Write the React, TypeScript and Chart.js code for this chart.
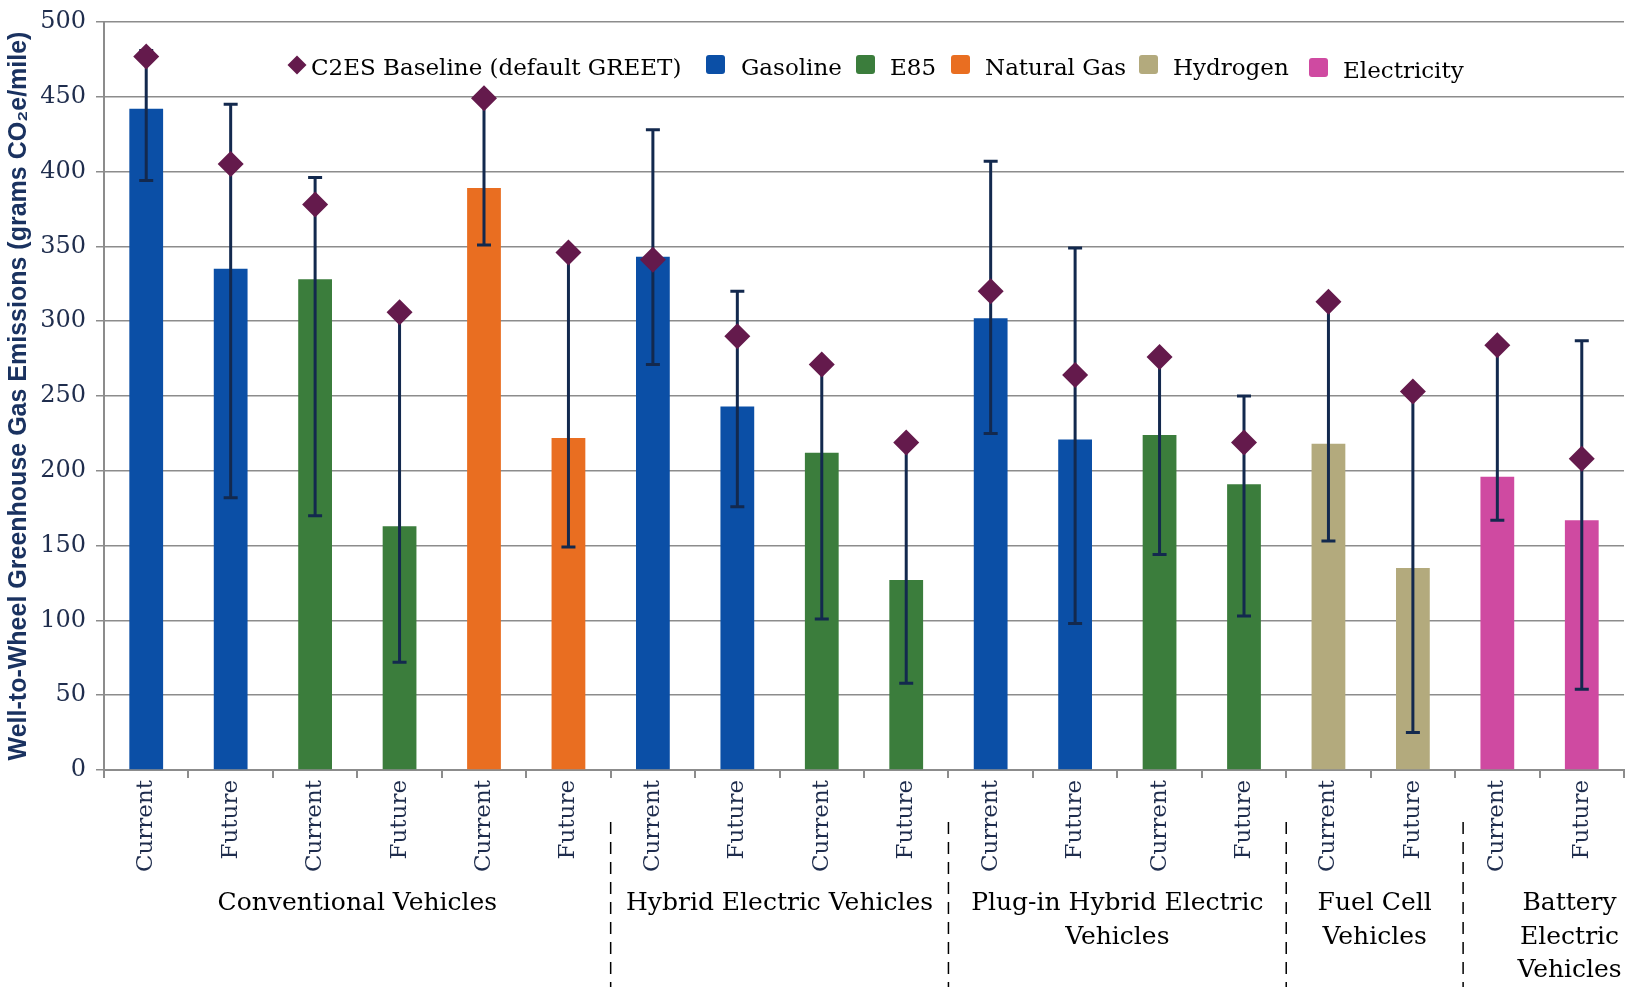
import React, { useEffect, useRef } from 'react';
import { Chart, registerables } from 'chart.js';

Chart.register(...registerables);

// ---------- data ----------
const categories = [
  'Current', 'Future', 'Current', 'Future', 'Current', 'Future',
  'Current', 'Future', 'Current', 'Future',
  'Current', 'Future', 'Current', 'Future',
  'Current', 'Future',
  'Current', 'Future',
];
const fuels = [
  'Gasoline', 'Gasoline', 'E85', 'E85', 'Natural Gas', 'Natural Gas',
  'Gasoline', 'Gasoline', 'E85', 'E85',
  'Gasoline', 'Gasoline', 'E85', 'E85',
  'Hydrogen', 'Hydrogen',
  'Electricity', 'Electricity',
];
const values = [442, 335, 328, 163, 389, 222, 343, 243, 212, 127, 302, 221, 224, 191, 218, 135, 196, 167];
const errLow = [394, 182, 170, 72, 351, 149, 271, 176, 101, 58, 225, 98, 144, 103, 153, 25, 167, 54];
const errHigh = [481, 445, 396, 306, 449, 346, 428, 320, 271, 219, 407, 349, 276, 250, 313, 253, 284, 287];
const baseline = [477, 405, 378, 306, 449, 346, 341, 290, 271, 219, 320, 264, 276, 219, 313, 253, 284, 208];

const baselineLabel = 'C2ES Baseline (default GREET)';
const fuelNames = ['Gasoline', 'E85', 'Natural Gas', 'Hydrogen', 'Electricity'];
const fuelColors = ['#0B4FA6', '#3B7D3C', '#E96E21', '#B3AA7D', '#CF4AA1'];

const groupLabels = [
  ['Conventional Vehicles'],
  ['Hybrid Electric Vehicles'],
  ['Plug-in Hybrid Electric', 'Vehicles'],
  ['Fuel Cell', 'Vehicles'],
  ['Battery', 'Electric', 'Vehicles'],
];
const groupStart = [0, 6, 10, 14, 16];
const groupEnd = [5, 9, 13, 15, 17];

const yMin = 0;
const yMax = 500;
const yStep = 50;
const yTitle = 'Well-to-Wheel Greenhouse Gas Emissions (grams CO\u2082e/mile)';

// ---------- styles ----------
const SERIF = '"DejaVu Serif", "Liberation Serif", serif';
const NAVY = '#1F2D4D';
const GRID = '#8C8C8C';
const ERR = '#13294E';
const DIAMOND = '#641A4C';
const legendTextX = [311, 741, 890, 985, 1173, 1343];
const legendBoxX = [706, 856, 951, 1139, 1309];
const groupShift = [0, 0, 0, 4, 30];
const dashShift = [0, 0, 0, 8];

const overlayPlugin = {
  id: 'overlay',
  beforeDatasetDraw(chart: any, args: any) {
    if (args.meta.type !== 'line') return;
    const xs = chart.scales.x;
    const ys = chart.scales.y;
    const ctx = chart.ctx;
    ctx.save();
    ctx.strokeStyle = ERR;
    ctx.lineWidth = 3;
    for (let i = 0; i < values.length; i++) {
      const px = xs.getPixelForValue(i);
      const yl = ys.getPixelForValue(errLow[i]);
      const yh = ys.getPixelForValue(errHigh[i]);
      ctx.beginPath();
      ctx.moveTo(px, yl);
      ctx.lineTo(px, yh);
      ctx.moveTo(px - 7, yl);
      ctx.lineTo(px + 7, yl);
      ctx.moveTo(px - 7, yh);
      ctx.lineTo(px + 7, yh);
      ctx.stroke();
    }
    ctx.restore();
  },
  afterDraw(chart: any) {
    const ctx = chart.ctx;
    const xs = chart.scales.x;
    ctx.save();
    // legend
    ctx.font = `23px ${SERIF}`;
    ctx.textBaseline = 'alphabetic';
    ctx.textAlign = 'left';
    ctx.fillStyle = DIAMOND;
    const dcx = 297, dcy = 65, dr = 9.5;
    ctx.beginPath();
    ctx.moveTo(dcx, dcy - dr);
    ctx.lineTo(dcx + dr, dcy);
    ctx.lineTo(dcx, dcy + dr);
    ctx.lineTo(dcx - dr, dcy);
    ctx.closePath();
    ctx.fill();
    ctx.fillStyle = '#000';
    ctx.fillText(baselineLabel, legendTextX[0], 75);
    fuelNames.forEach((name, i) => {
      const dy = i === fuelNames.length - 1 ? 3 : 0;
      ctx.fillStyle = fuelColors[i];
      ctx.beginPath();
      (ctx as any).roundRect(legendBoxX[i], 55 + dy, 19, 19, 3);
      ctx.fill();
      ctx.fillStyle = '#000';
      ctx.fillText(name, legendTextX[i + 1], 75 + dy);
    });

    // group labels
    ctx.font = `25px ${SERIF}`;
    ctx.textAlign = 'center';
    ctx.fillStyle = '#000';
    groupLabels.forEach((lines, g) => {
      const cx = (xs.getPixelForValue(groupStart[g]) + xs.getPixelForValue(groupEnd[g])) / 2 + groupShift[g];
      lines.forEach((line, k) => {
        ctx.fillText(line, cx, 910 + k * 33.5);
      });
    });

    // dashed separators
    ctx.strokeStyle = '#000';
    ctx.lineWidth = 1.5;
    ctx.setLineDash([12, 8]);
    for (let g = 1; g < groupStart.length; g++) {
      const bx = (xs.getPixelForValue(groupStart[g] - 1) + xs.getPixelForValue(groupStart[g])) / 2 + dashShift[g - 1];
      ctx.beginPath();
      ctx.moveTo(bx, 822);
      ctx.lineTo(bx, 987);
      ctx.stroke();
    }
    ctx.restore();
  },
};

export default function App() {
  const canvasRef = useRef<HTMLCanvasElement | null>(null);

  useEffect(() => {
    if (!canvasRef.current) return;
    const barColors = fuels.map((f) => fuelColors[fuelNames.indexOf(f)]);
    const chart = new Chart(canvasRef.current, {
      type: 'bar',
      data: {
        labels: categories,
        datasets: [
          {
            type: 'bar',
            label: 'Fuel',
            data: values,
            backgroundColor: barColors,
            borderWidth: 0,
            barPercentage: 0.4,
            categoryPercentage: 1,
            order: 2,
          },
          {
            type: 'line',
            label: baselineLabel,
            data: baseline,
            showLine: false,
            pointStyle: 'rectRot',
            pointRadius: 13,
            pointBackgroundColor: DIAMOND,
            pointBorderColor: DIAMOND,
            pointBorderWidth: 0,
            clip: false,
            order: 1,
          } as any,
        ],
      },
      options: {
        responsive: true,
        maintainAspectRatio: false,
        animation: false,
        layout: { autoPadding: false, padding: { top: 16, right: 3, bottom: 0, left: 0 } },
        plugins: {
          legend: { display: false },
          tooltip: { enabled: false },
        },
        scales: {
          x: {
            offset: true,
            grid: {
              offset: true,
              drawOnChartArea: false,
              drawTicks: true,
              tickLength: 8,
              color: GRID,
              lineWidth: 2,
            },
            border: { color: GRID, width: 2 },
            ticks: {
              autoSkip: false,
              minRotation: 90,
              maxRotation: 90,
              padding: 2,
              color: NAVY,
              font: { family: SERIF, size: 23 },
            },
            afterFit: (scale: any) => {
              scale.height = 217;
              scale.paddingRight = 0;
              scale.paddingLeft = 0;
            },
          },
          y: {
            min: yMin,
            max: yMax,
            ticks: {
              stepSize: yStep,
              padding: 10,
              color: NAVY,
              font: { family: SERIF, size: 24, lineHeight: 1 },
            },
            grid: {
              color: GRID,
              lineWidth: 1.5,
              tickLength: 8,
              drawTicks: true,
            },
            border: { color: GRID, width: 2 },
            title: {
              display: true,
              text: yTitle,
              color: '#1A3260',
              font: { family: '"Liberation Sans", Arial, sans-serif', size: 25, weight: 'bold' },
              padding: { top: 4, bottom: 0 },
            },
            afterFit: (scale: any) => {
              scale.width = 104;
            },
          },
        },
      },
      plugins: [overlayPlugin],
    });
    return () => chart.destroy();
  }, []);

  return (
    <div style={{ position: 'absolute', left: 0, top: 0, width: 1627, height: 987 }}>
      <canvas ref={canvasRef} />
    </div>
  );
}
